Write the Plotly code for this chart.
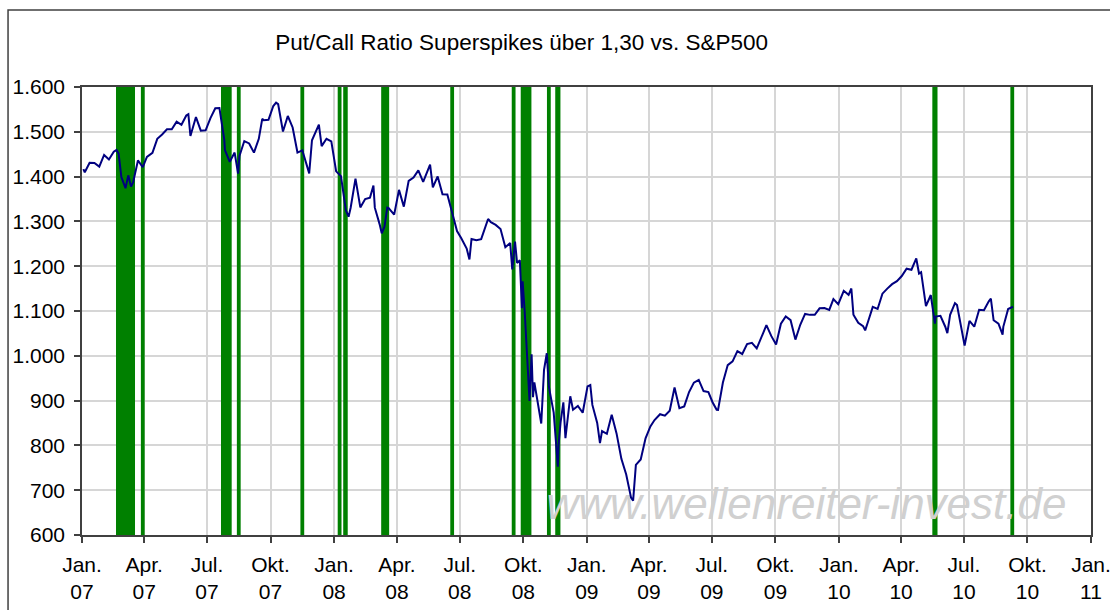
import plotly.graph_objects as go

# S&P 500 (approximate)
sp_dates = [
"2007-01-03","2007-01-05","2007-01-12","2007-01-19","2007-01-26","2007-02-02","2007-02-09","2007-02-16","2007-02-20","2007-02-23",
"2007-02-27","2007-03-02","2007-03-05","2007-03-09","2007-03-13","2007-03-16","2007-03-23","2007-03-30","2007-04-05","2007-04-13",
"2007-04-20","2007-04-27","2007-05-04","2007-05-11","2007-05-18","2007-05-25","2007-06-01","2007-06-04","2007-06-07","2007-06-15",
"2007-06-22","2007-06-29","2007-07-06","2007-07-13","2007-07-19","2007-07-26","2007-07-27","2007-08-03","2007-08-09","2007-08-10",
"2007-08-15","2007-08-17","2007-08-24","2007-08-31","2007-09-07","2007-09-14","2007-09-19","2007-09-21","2007-09-28","2007-10-05",
"2007-10-09","2007-10-12","2007-10-19","2007-10-26","2007-11-02","2007-11-09","2007-11-16","2007-11-26","2007-11-30","2007-12-10",
"2007-12-14","2007-12-21","2007-12-28",
"2008-01-04","2008-01-11","2008-01-18","2008-01-22","2008-01-25","2008-02-01","2008-02-08","2008-02-15","2008-02-22","2008-02-27",
"2008-02-29","2008-03-07","2008-03-10","2008-03-14","2008-03-18","2008-03-20","2008-03-28","2008-04-04","2008-04-11","2008-04-18",
"2008-04-25","2008-05-02","2008-05-09","2008-05-19","2008-05-23","2008-05-30","2008-06-06","2008-06-13","2008-06-20","2008-06-27",
"2008-07-03","2008-07-11","2008-07-15","2008-07-18","2008-07-25","2008-08-01","2008-08-11","2008-08-15","2008-08-22","2008-08-29",
"2008-09-05","2008-09-12","2008-09-15","2008-09-19","2008-09-22","2008-09-26","2008-09-29","2008-09-30","2008-10-03","2008-10-09",
"2008-10-10","2008-10-13","2008-10-15","2008-10-17","2008-10-24","2008-10-27","2008-10-31","2008-11-04","2008-11-07","2008-11-14",
"2008-11-20","2008-11-21","2008-11-24","2008-11-28","2008-12-01","2008-12-05","2008-12-08","2008-12-12","2008-12-19","2008-12-26",
"2009-01-02","2009-01-06","2009-01-09","2009-01-16","2009-01-20","2009-01-23","2009-01-30","2009-02-06","2009-02-13","2009-02-20",
"2009-02-27","2009-03-06","2009-03-09","2009-03-13","2009-03-20","2009-03-27","2009-04-03","2009-04-09","2009-04-17","2009-04-24",
"2009-05-01","2009-05-08","2009-05-15","2009-05-22","2009-05-29","2009-06-05","2009-06-12","2009-06-19","2009-06-26","2009-07-02",
"2009-07-08","2009-07-10","2009-07-17","2009-07-24","2009-07-31","2009-08-07","2009-08-14","2009-08-21","2009-08-28","2009-09-04",
"2009-09-11","2009-09-18","2009-09-25","2009-10-02","2009-10-09","2009-10-16","2009-10-23","2009-10-30","2009-11-06","2009-11-13",
"2009-11-20","2009-11-27","2009-12-04","2009-12-11","2009-12-18","2009-12-24","2009-12-31",
"2010-01-08","2010-01-15","2010-01-19","2010-01-22","2010-01-29","2010-02-05","2010-02-08","2010-02-12","2010-02-19","2010-02-26",
"2010-03-05","2010-03-12","2010-03-19","2010-03-26","2010-04-02","2010-04-09","2010-04-16","2010-04-23","2010-04-27","2010-04-30",
"2010-05-06","2010-05-07","2010-05-14","2010-05-20","2010-05-21","2010-05-28","2010-06-04","2010-06-07","2010-06-11","2010-06-18",
"2010-06-21","2010-06-25","2010-07-02","2010-07-09","2010-07-16","2010-07-23","2010-07-30","2010-08-06","2010-08-09","2010-08-13",
"2010-08-20","2010-08-26","2010-08-27","2010-09-03","2010-09-10",
]
sp_values = [
1416.6,1409.7,1430.7,1430.5,1422.2,1448.4,1438.1,1455.5,1459.7,1451.2,
1399.0,1387.2,1374.1,1402.8,1377.9,1386.95,1436.1,1420.9,1443.8,1452.85,
1484.35,1494.07,1505.6,1505.85,1522.75,1515.7,1536.3,1539.2,1490.7,1532.9,
1502.6,1503.35,1530.4,1552.5,1553.1,1482.7,1458.95,1433.06,1453.1,1453.64,
1406.7,1445.94,1479.37,1473.99,1453.55,1484.25,1529.0,1525.75,1526.75,1557.59,
1565.2,1561.8,1500.63,1535.28,1509.65,1453.7,1458.74,1407.2,1481.14,1515.96,
1467.95,1484.46,1478.49,
1411.63,1401.02,1325.19,1310.5,1330.61,1395.42,1331.29,1349.99,1353.11,1380.0,
1330.63,1293.37,1273.4,1288.14,1330.7,1329.51,1315.22,1370.4,1332.83,1390.33,
1397.84,1413.9,1388.28,1426.6,1375.93,1400.38,1360.68,1360.03,1317.93,1278.38,
1262.9,1239.49,1214.9,1260.68,1257.76,1260.31,1305.3,1298.2,1292.2,1282.83,
1242.31,1251.7,1192.7,1255.08,1207.1,1213.27,1106.4,1166.4,1099.23,909.9,
899.22,1003.4,907.8,940.55,876.77,848.9,968.75,1005.75,930.99,873.29,
752.4,800.03,851.8,896.24,816.2,876.07,909.7,879.73,887.88,872.8,
931.8,934.7,890.35,850.12,805.2,831.95,825.88,868.6,826.84,770.05,
735.09,683.38,676.5,756.55,768.54,815.94,842.5,856.56,869.6,866.23,
877.52,929.23,882.88,887.0,919.14,940.09,946.21,921.23,918.9,896.42,
879.6,879.13,940.38,979.26,987.48,1010.48,1004.09,1026.13,1028.93,1016.4,
1042.73,1068.3,1044.38,1025.21,1071.49,1087.68,1079.6,1036.19,1069.3,1093.48,
1091.38,1091.49,1105.98,1106.41,1102.47,1126.48,1115.1,
1144.98,1136.03,1150.2,1091.76,1073.87,1066.19,1056.7,1075.51,1109.17,1104.49,
1138.7,1149.99,1159.9,1166.59,1178.1,1194.37,1192.13,1217.28,1183.7,1186.69,
1128.2,1110.88,1135.68,1071.6,1087.69,1089.41,1064.88,1050.5,1091.6,1117.51,
1113.2,1076.76,1022.58,1077.96,1064.88,1102.66,1101.6,1121.64,1127.8,1079.25,
1071.69,1047.2,1064.59,1104.51,1109.55,
]

# Put/Call ratio superspike days (> 1,30)
spike_dates = [
"2007-02-22","2007-02-23","2007-02-26","2007-02-27","2007-02-28","2007-03-01","2007-03-02","2007-03-05",
"2007-03-06","2007-03-07","2007-03-08","2007-03-09","2007-03-12","2007-03-13","2007-03-14","2007-03-15","2007-03-16",
"2007-03-30",
"2007-07-24","2007-07-25","2007-07-26","2007-07-27","2007-07-30","2007-07-31","2007-08-01","2007-08-02","2007-08-03",
"2007-08-16","2007-11-16",
"2008-01-09","2008-01-17","2008-01-18",
"2008-03-12","2008-03-13","2008-03-14","2008-03-17","2008-03-18",
"2008-06-20","2008-09-17",
"2008-09-30","2008-10-01","2008-10-02","2008-10-03","2008-10-06","2008-10-07","2008-10-08","2008-10-09","2008-10-10",
"2008-11-07","2008-11-19","2008-11-20","2008-11-21",
"2010-05-19","2010-05-20","2010-05-21",
"2010-09-09",
]

y_min, y_max = 600, 1600
x_tickvals = ["2007-01-01","2007-04-01","2007-07-01","2007-10-01",
              "2008-01-01","2008-04-01","2008-07-01","2008-10-01",
              "2009-01-01","2009-04-01","2009-07-01","2009-10-01",
              "2010-01-01","2010-04-01","2010-07-01","2010-10-01","2011-01-01"]
x_ticktext = ["Jan.<br>07","Apr.<br>07","Jul.<br>07","Okt.<br>07",
              "Jan.<br>08","Apr.<br>08","Jul.<br>08","Okt.<br>08",
              "Jan.<br>09","Apr.<br>09","Jul.<br>09","Okt.<br>09",
              "Jan.<br>10","Apr.<br>10","Jul.<br>10","Okt.<br>10","Jan.<br>11"]

FONT = "Liberation Sans, Arial, sans-serif"
DAY_MS = 86400000

fig = go.Figure()

# watermark (beneath the data)
fig.add_trace(go.Scatter(
    x=["2009-11-15"], y=[661], mode="text",
    text=["<i>www.wellenreiter-invest.de</i>"],
    textfont=dict(family=FONT, size=44, color="#d0d0d0"),
    hoverinfo="skip", showlegend=False))

fig.add_trace(go.Bar(
    x=spike_dates, y=[y_max - y_min] * len(spike_dates), base=y_min,
    width=5.5 * DAY_MS, marker=dict(color="#008000", line=dict(width=0)),
    showlegend=False))

fig.add_trace(go.Scatter(
    x=sp_dates, y=sp_values, mode="lines",
    line=dict(color="#000080", width=2), showlegend=False))

axis_col = "#404040"
fig.update_layout(
    width=1110, height=610,
    margin=dict(l=82, r=19, t=87, b=75, autoexpand=False),
    paper_bgcolor="white", plot_bgcolor="white",
    separators=",.",
    font=dict(family=FONT, size=21, color="black"),
    title=dict(text="Put/Call Ratio Superspikes über 1,30 vs. S&P500",
               xref="container", x=0.47, xanchor="center",
               yref="container", y=0.931, yanchor="middle",
               font=dict(family=FONT, size=22.5, color="black")),
    xaxis=dict(type="date", range=["2007-01-01", "2011-01-01"],
               tickmode="array", tickvals=x_tickvals, ticktext=x_ticktext,
               showgrid=True, gridcolor="#d6d6d6", gridwidth=1.5,
               showline=True, linecolor=axis_col, linewidth=1.5, mirror=True,
               ticks="outside", ticklen=6, tickcolor=axis_col, tickwidth=1.5,
               ticklabelstandoff=4, automargin=False, ticklabeloverflow="allow",
               tickfont=dict(family=FONT, size=21, color="black"), zeroline=False),
    yaxis=dict(range=[y_min, y_max], dtick=100, tick0=600, tickformat=",.0f",
               showgrid=True, gridcolor="#d6d6d6", gridwidth=1.5,
               showline=True, linecolor=axis_col, linewidth=1.5, mirror=True,
               ticks="outside", ticklen=6, tickcolor=axis_col, tickwidth=1.5,
               ticklabelstandoff=5, automargin=False, ticklabeloverflow="allow",
               tickfont=dict(family=FONT, size=21, color="black"), zeroline=False),
    shapes=[dict(type="rect", xref="paper", yref="paper",
                 x0=-0.0733, x1=1.03, y0=-0.25, y1=1.1719,
                 line=dict(color=axis_col, width=1.5), layer="below")],
)

fig.write_html("out.html",
               config={"displayModeBar": False},
               post_script="document.body.style.margin='0px';"
                           "document.documentElement.style.overflow='hidden';")
